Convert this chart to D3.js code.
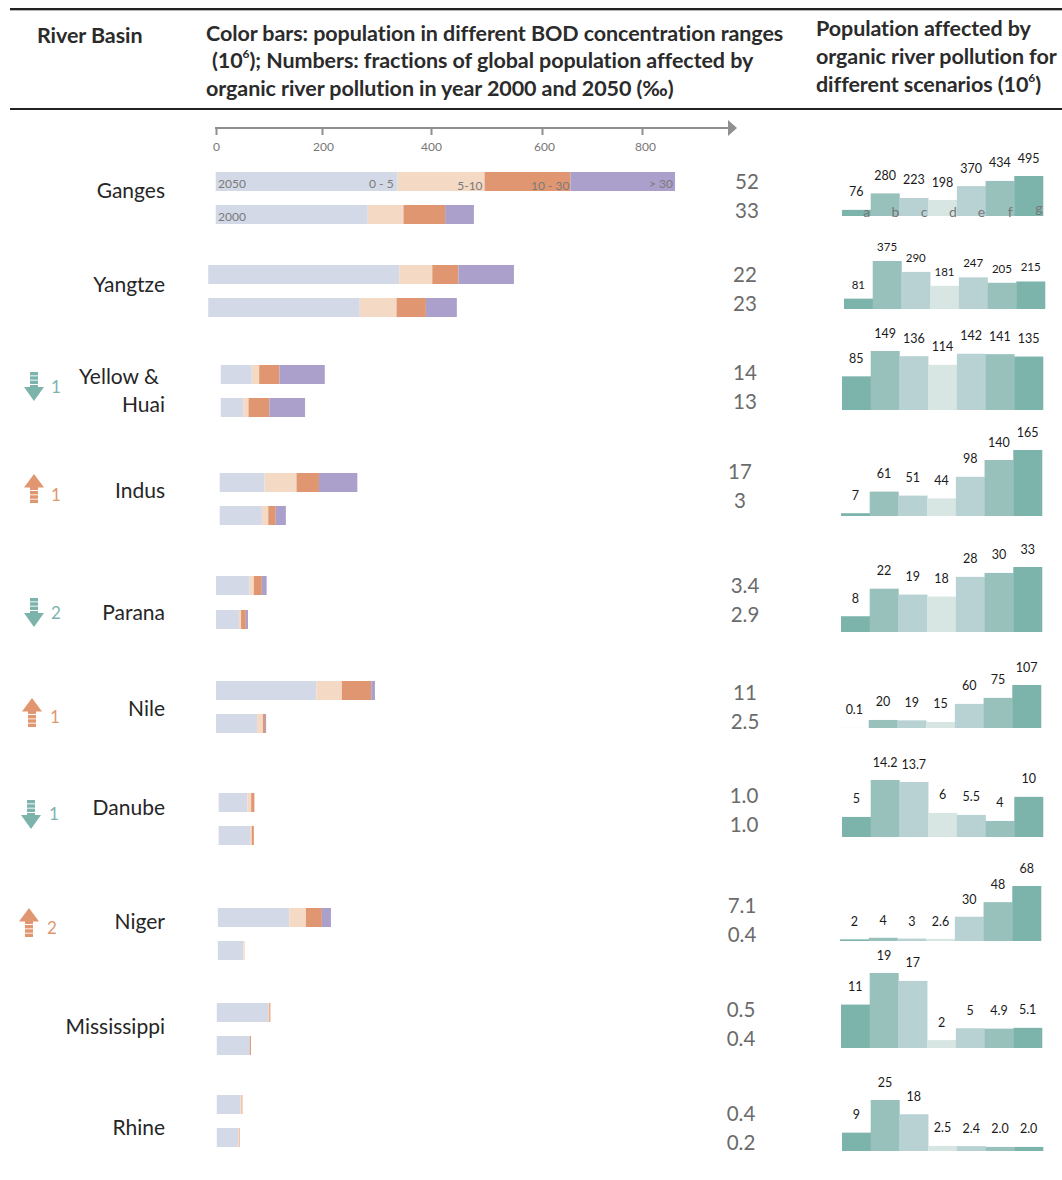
<!DOCTYPE html>
<html><head><meta charset="utf-8">
<script src="https://cdn.jsdelivr.net/npm/d3@7"></script>
<style>html,body{margin:0;padding:0;background:#fff}svg{display:block}text{font-family:Lato,"Open Sans",sans-serif}</style>
</head><body><svg id="c" width="1062" height="1180"></svg>
<script>
// ---------- data ----------
const basins = ["Ganges","Yangtze","Yellow & Huai","Indus","Parana","Nile","Danube","Niger","Mississippi","Rhine"];
const bodRanges = ["0 - 5","5-10","10 - 30","> 30"];
const years = ["2050","2000"];
// population per BOD range, 10^6 (0-5, 5-10, 10-30, >30)
const pop2050 = [[341,163,161,196],[358,62,49,104],[58,14,38,85],[84,60,42,72],[63,8,15,9],[188,48,55,7],[54,7,6,0],[134,31,30,17],[96,2.5,2,0],[44,2.5,1.5,0]];
const pop2000 = [[285,67,78,54],[284,69,55,58],[42,10,39,67],[79,12,14,19],[43,4,9,4],[77,11,4,2],[59,3,4,0],[48,2.5,0,0],[62,0,2,0],[40,2,1,0]];
// start of each bar along the axis, 10^6
const barStart = [0,-14,9.5,7.5,0.5,0.5,5.5,4,2,2];
const fraction2050 = ["52","22","14","17","3.4","11","1.0","7.1","0.5","0.4"];
const fraction2000 = ["33","23","13","3","2.9","2.5","1.0","0.4","0.4","0.2"];
const scenarios = ["a","b","c","d","e","f","g"];
const scenarioValues = [
 [76,280,223,198,370,434,495],
 [81,375,290,181,247,205,215],
 [85,149,136,114,142,141,135],
 [7,61,51,44,98,140,165],
 [8,22,19,18,28,30,33],
 [0.1,20,19,15,60,75,107],
 [5,14.2,13.7,6,5.5,4,10],
 [2,4,3,2.6,30,48,68],
 [11,19,17,2,5,4.9,5.1],
 [9,25,18,2.5,2.4,2.0,2.0]];
const scenarioLabels = [
 ["76","280","223","198","370","434","495"],
 ["81","375","290","181","247","205","215"],
 ["85","149","136","114","142","141","135"],
 ["7","61","51","44","98","140","165"],
 ["8","22","19","18","28","30","33"],
 ["0.1","20","19","15","60","75","107"],
 ["5","14.2","13.7","6","5.5","4","10"],
 ["2","4","3","2.6","30","48","68"],
 ["11","19","17","2","5","4.9","5.1"],
 ["9","25","18","2.5","2.4","2.0","2.0"]];
// rank changes: basin, direction, places
const rankBasins = ["Yellow & Huai","Indus","Parana","Nile","Danube","Niger"];
const rankDirs = ["down","up","down","up","down","up"];
const rankSteps = ["1","1","2","1","1","2"];
const axisTicks = [0,200,400,600,800];

// ---------- layout ----------
const rowTop2050 = [172,265,365,473,576,681,793,908,1003,1095];
const rowTop2000 = [205,298,398,506,610,714,826,941,1036,1128];
const barH = 19;
const fracX = [747,745,745,740,745,745,744,742,741,741];
const fracY = [181,274,372,471,585,692,795,905,1009,1113];
const labelY = [190,284,null,490,612,708,807,921,1026,1127];
const panelX0 = [842,844,842,841,841,840,842,840,841,842];
const panelBase = [216,309,410,516,632,728,837,941,1048,1151];
const panelMaxH = [40,48,59,66,65,43,57,55,75,51];
const panelGap = [18,14.5,18,18,18,18,18,17.5,18,18];
const panelW = 201;
const arrowX = [34,34,34,32,31,29];
const arrowY = [372,474,598,698,800,908];
const stepX = [56,56,56,55,54,52];
const stepY = [386,494,612,716,813,927];

const blue="#d3d9e7", peach="#f4d9c5", orange="#e09670", purple="#aba0cb", teal="#7cb4ac", ink="#262626", gray="#6b6b6b";

const svg = d3.select("#c");
const x = d3.scaleLinear().domain([0,800]).range([215.7,642.5]);
const axisX = d3.scaleLinear().domain(axisTicks).range([216,322,431,542,642]);
const colorOf = d3.scaleOrdinal().domain(bodRanges).range([blue,peach,orange,purple]);
const scenColor = d3.scaleOrdinal().domain(scenarios).range([teal,"#98c1bc","#b8d2d3","#d8e6e3","#b8d2d3","#98c1bc",teal]);
const topOf = {"2050":d3.scaleOrdinal().domain(basins).range(rowTop2050),"2000":d3.scaleOrdinal().domain(basins).range(rowTop2000)};

function txt(g,s,xx,yy,o={}){
  const t=g.append("text").attr("x",xx).attr("y",yy).text(s)
    .attr("font-size",o.size||14).attr("fill",o.fill||ink)
    .attr("font-weight",o.weight||400).attr("text-anchor",o.anchor||"start")
    .attr("dominant-baseline","central");
  if(o.ls!=null)t.attr("letter-spacing",o.ls);
  return t;
}

// header rules
const rules = svg.append("g");
rules.append("rect").attr("x",10).attr("y",8).attr("width",1052).attr("height",2).attr("fill","#222");
rules.append("rect").attr("x",10).attr("y",10).attr("width",1052).attr("height",1).attr("fill","#b5b5b5");
rules.append("rect").attr("x",10).attr("y",108).attr("width",1052).attr("height",2).attr("fill","#222");

// header text
const hd = svg.append("g");
const HS=21.5, HC="#2b2b2b", HL=-0.08;
txt(hd,"River Basin",37,35,{size:HS,weight:700,fill:HC,ls:HL});
txt(hd,"Color bars: population in different BOD concentration ranges",206,33,{size:HS,weight:700,fill:HC,ls:HL});
const l2=txt(hd,"",212,60,{size:HS,weight:700,fill:HC,ls:HL});
l2.append("tspan").text("(10");
l2.append("tspan").text("6").attr("font-size",12).attr("dy",-7);
l2.append("tspan").text("); Numbers: fractions of global population affected by").attr("dy",7);
txt(hd,"organic river pollution in year 2000 and 2050 (‰)",206,88,{size:HS,weight:700,fill:HC,ls:HL});
txt(hd,"Population affected by",816,28,{size:HS,weight:700,fill:HC,ls:HL});
txt(hd,"organic river pollution for",816,56,{size:HS,weight:700,fill:HC,ls:HL});
const l3=txt(hd,"",816,84,{size:HS,weight:700,fill:HC,ls:HL});
l3.append("tspan").text("different scenarios (10");
l3.append("tspan").text("6").attr("font-size",12).attr("dy",-7);
l3.append("tspan").text(")").attr("dy",7);

// axis
const axG = svg.append("g").attr("transform","translate(0,128)");
axG.call(d3.axisBottom(axisX).tickValues(axisTicks).tickSize(7).tickPadding(7).tickFormat(d3.format("d")));
axG.select(".domain").remove();
axG.selectAll(".tick line").attr("stroke","#8f8f8f").attr("stroke-width",2);
axG.selectAll(".tick text").attr("fill","#777").attr("font-size",12).attr("font-family","Lato").attr("dy","0.72em").attr("dx",(d,i)=>[0,1,0,2,3][i]);
axG.append("line").attr("x1",215).attr("x2",730).attr("y1",0).attr("y2",0).attr("stroke","#8f8f8f").attr("stroke-width",2);
axG.append("path").attr("d",d3.line()([[728,-8],[737,0],[728,8]])+"Z").attr("fill","#8f8f8f");

// stacked bars
const rows=[];
basins.forEach((b,i)=>{
  years.forEach(y=>{
    const vals=(y==="2050"?pop2050:pop2000)[i];
    const obj={};bodRanges.forEach((r,k)=>obj[r]=vals[k]);
    rows.push(Object.assign(obj,{basin:b,year:y,start:barStart[i]}));
  });
});
const stacked=d3.stack().keys(bodRanges)(rows);
const barsG=svg.append("g");
stacked.forEach(layer=>{
  barsG.selectAll(null).data(layer).join("rect")
    .attr("x",d=>x(d[0]+d.data.start))
    .attr("width",d=>x(d[1])-x(d[0]))
    .attr("y",d=>topOf[d.data.year](d.data.basin))
    .attr("height",barH)
    .attr("fill",colorOf(layer.key));
});

// in-bar labels
const inG=svg.append("g");
const inC="#7a7a7a";
txt(inG,"2050",218,183,{size:12,fill:inC});
txt(inG,"2000",218,216,{size:12,fill:inC});
const g0=rows[0];let cum=0;
bodRanges.forEach((r,k)=>{
  cum+=g0[r];
  txt(inG,r,x(cum)-[4,2,1,2][k],[183,185,185,183][k],{size:12,fill:inC,anchor:"end"});
});

// basin names and fractions
const nameG=svg.append("g");
basins.forEach((b,i)=>{
  if(b==="Yellow & Huai"){
    txt(nameG,"Yellow &",159,375.5,{size:21,anchor:"end"});
    txt(nameG,"Huai",165,403.5,{size:21,anchor:"end"});
  } else txt(nameG,b,165,labelY[i]-0.5,{size:21,anchor:"end"});
  txt(nameG,fraction2050[i],fracX[i],fracY[i],{size:20.5,fill:gray,anchor:"middle"});
  txt(nameG,fraction2000[i],fracX[i],fracY[i]+29,{size:20.5,fill:gray,anchor:"middle"});
});

// rank arrows
const arrowHead=d3.line();
const arrG=svg.append("g");
rankBasins.forEach((b,i)=>{
  const dn=rankDirs[i]==="down", col=dn?teal:orange, cx=arrowX[i], y0=arrowY[i];
  const g=arrG.append("g").attr("transform",`translate(${cx},${y0})`);
  if(dn){
    [0,1,2].forEach(k=>g.append("rect").attr("x",-4).attr("width",8).attr("y",k*4.3).attr("height",3.4).attr("fill",col));
    g.append("path").attr("d",arrowHead([[-4,13],[4,13],[4,15],[10,15],[0,29],[-10,15],[-4,15]])+"Z").attr("fill",col);
  } else {
    g.append("path").attr("d",arrowHead([[0,0],[10,13.5],[4,13.5],[4,16],[-4,16],[-4,13.5],[-10,13.5]])+"Z").attr("fill",col);
    [0,1,2].forEach(k=>g.append("rect").attr("x",-4).attr("width",8).attr("y",17+k*4.3).attr("height",3.4).attr("fill",col));
  }
  txt(arrG,rankSteps[i],stepX[i],stepY[i],{size:17,fill:col,anchor:"middle"});
});

// scenario panels
const panels=svg.append("g");
basins.forEach((b,i)=>{
  const vals=scenarioValues[i];
  const bx=d3.scaleBand().domain(scenarios).range([panelX0[i],panelX0[i]+panelW]).padding(0);
  const by=d3.scaleLinear().domain([0,d3.max(vals)]).range([panelBase[i],panelBase[i]-panelMaxH[i]]);
  const g=panels.append("g");
  g.selectAll("rect").data(scenarios).join("rect")
    .attr("x",s=>bx(s)).attr("width",bx.bandwidth()+0.3)
    .attr("y",(s,k)=>by(vals[k])).attr("height",(s,k)=>panelBase[i]-by(vals[k]))
    .attr("fill",s=>scenColor(s));
  scenarios.forEach((s,k)=>{
    txt(g,scenarioLabels[i][k],bx(s)+bx.bandwidth()/2,by(vals[k])-panelGap[i],{size:i===1?11.5:12.5,fill:"#1a1a1a",anchor:"middle"});
  });
  if(i===0){
    const yy=[211,211,211,211,211,211,207];
    scenarios.forEach((s,k)=>txt(g,s,bx(s)+bx.bandwidth()-4,yy[k],{size:14,fill:"#777",anchor:"middle"}));
  }
});
</script></body></html>
